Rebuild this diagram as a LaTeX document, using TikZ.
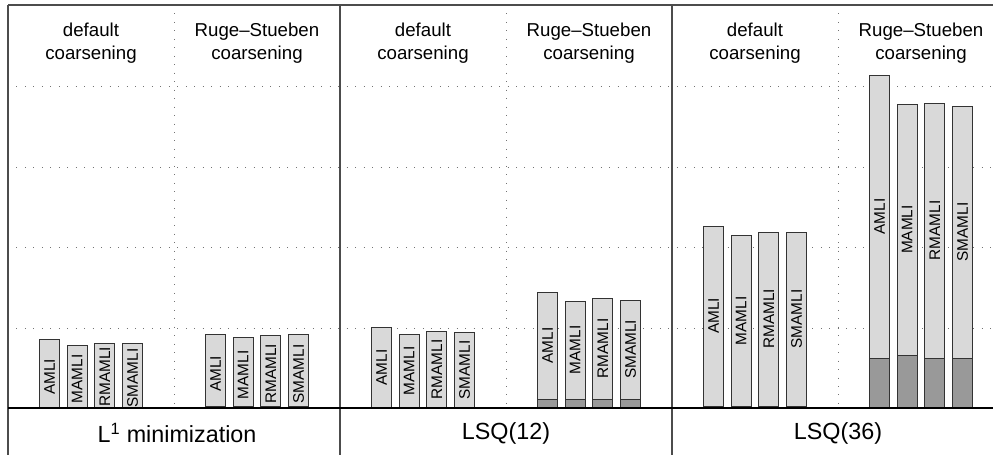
\documentclass[tikz,border=0pt]{standalone}
\usepackage{fontspec}
\setmainfont{Liberation Sans}
\definecolor{barlight}{rgb}{0.85,0.85,0.85}
\definecolor{bardark}{rgb}{0.6,0.6,0.6}
\definecolor{gridgray}{rgb}{0.45,0.45,0.45}
\tikzset{
  lightbar/.style={draw=black!80,fill=barlight,line width=0.75pt},
  darkbar/.style={draw=black!80,fill=bardark,line width=0.75pt},
  barlabel/.style={rotate=90,inner sep=0pt,font=\fontsize{11.5}{13}\selectfont},
  gridline/.style={gridgray,line width=0.75pt,dash pattern=on 0.75pt off 5.6pt},
  frameline/.style={black!70,line width=1pt},
  grouptitle/.style={align=center,font=\fontsize{14}{17.5}\selectfont},
  paneltitle/.style={font=\fontsize{17.5}{20}\selectfont}
}
\begin{document}
\begin{tikzpicture}[x=0.75pt,y=-0.75pt]
\useasboundingbox (0,0) rectangle (994,455);

% grid
\draw[gridline] (8,86) -- (993,86);
\draw[gridline] (8,167) -- (993,167);
\draw[gridline] (8,247) -- (993,247);
\draw[gridline] (8,328) -- (993,328);
\draw[gridline] (174,5) -- (174,408);
\draw[gridline] (174+332,5) -- (174+332,408);
\draw[gridline] (174+664,5) -- (174+664,408);

% L1 minimization, default coarsening
\draw[lightbar] (39.5,408) rectangle (39.5+20,339);
\draw[lightbar] (39.5+27.7,408) rectangle (39.5+27.7+20,345);
\draw[lightbar] (39.5+55.4,408) rectangle (39.5+55.4+20,343);
\draw[lightbar] (39.5+83.1,408) rectangle (39.5+83.1+20,343);
\node[barlabel] (l1d1) at (49.5,377) {AMLI};
\node[barlabel] (l1d2) at (49.5+27.7,379) {MAMLI};
\node[barlabel] (l1d3) at (49.5+55.4,377) {RMAMLI};
\node[barlabel] (l1d4) at (49.5+83.1,378) {SMAMLI};
% L1 minimization, Ruge-Stueben
\draw[lightbar] (205.5,408) rectangle (205.5+20,334);
\draw[lightbar] (205.5+27.7,408) rectangle (205.5+27.7+20,337);
\draw[lightbar] (205.5+55.4,408) rectangle (205.5+55.4+20,335);
\draw[lightbar] (205.5+83.1,408) rectangle (205.5+83.1+20,334);
\draw[darkbar] (205.5,408) rectangle (205.5+20,406);
\draw[darkbar] (205.5+27.7,408) rectangle (205.5+27.7+20,406);
\draw[darkbar] (205.5+55.4,408) rectangle (205.5+55.4+20,406);
\draw[darkbar] (205.5+83.1,408) rectangle (205.5+83.1+20,406);
\node[barlabel] (l1r1) at (215.5,374) {AMLI};
\node[barlabel] (l1r2) at (215.5+27.7,375) {MAMLI};
\node[barlabel] (l1r3) at (215.5+55.4,374) {RMAMLI};
\node[barlabel] (l1r4) at (215.5+83.1,374) {SMAMLI};

% LSQ(12), default coarsening
\draw[lightbar] (39.5+332,408) rectangle (39.5+332+20,327);
\draw[lightbar] (39.5+332+27.7,408) rectangle (39.5+332+27.7+20,334);
\draw[lightbar] (39.5+332+55.4,408) rectangle (39.5+332+55.4+20,331);
\draw[lightbar] (39.5+332+83.1,408) rectangle (39.5+332+83.1+20,332);
\node[barlabel] (q12d1) at (49.5+332,367.5) {AMLI};
\node[barlabel] (q12d2) at (49.5+332+27.7,371) {MAMLI};
\node[barlabel] (q12d3) at (49.5+332+55.4,369.5) {RMAMLI};
\node[barlabel] (q12d4) at (49.5+332+83.1,370) {SMAMLI};
% LSQ(12), Ruge-Stueben
\draw[lightbar] (205.5+332,408) rectangle (205.5+332+20,292);
\draw[lightbar] (205.5+332+27.7,408) rectangle (205.5+332+27.7+20,301);
\draw[lightbar] (205.5+332+55.4,408) rectangle (205.5+332+55.4+20,298);
\draw[lightbar] (205.5+332+83.1,408) rectangle (205.5+332+83.1+20,300);
\draw[darkbar] (205.5+332,408) rectangle (205.5+332+20,399);
\draw[darkbar] (205.5+332+27.7,408) rectangle (205.5+332+27.7+20,399);
\draw[darkbar] (205.5+332+55.4,408) rectangle (205.5+332+55.4+20,399);
\draw[darkbar] (205.5+332+83.1,408) rectangle (205.5+332+83.1+20,399);
\node[barlabel] (q12r1) at (215.5+332,345.5) {AMLI};
\node[barlabel] (q12r2) at (215.5+332+27.7,350) {MAMLI};
\node[barlabel] (q12r3) at (215.5+332+55.4,348.5) {RMAMLI};
\node[barlabel] (q12r4) at (215.5+332+83.1,349.5) {SMAMLI};

% LSQ(36), default coarsening
\draw[lightbar] (39.5+664,408) rectangle (39.5+664+20,226);
\draw[lightbar] (39.5+664+27.7,408) rectangle (39.5+664+27.7+20,235);
\draw[lightbar] (39.5+664+55.4,408) rectangle (39.5+664+55.4+20,232);
\draw[lightbar] (39.5+664+83.1,408) rectangle (39.5+664+83.1+20,232);
\draw[darkbar] (39.5+664,408) rectangle (39.5+664+20,406.5);
\draw[darkbar] (39.5+664+27.7,408) rectangle (39.5+664+27.7+20,406.5);
\draw[darkbar] (39.5+664+55.4,408) rectangle (39.5+664+55.4+20,406.5);
\draw[darkbar] (39.5+664+83.1,408) rectangle (39.5+664+83.1+20,406.5);
\node[barlabel] (q36d1) at (49.5+664,316) {AMLI};
\node[barlabel] (q36d2) at (49.5+664+27.7,321) {MAMLI};
\node[barlabel] (q36d3) at (49.5+664+55.4,319) {RMAMLI};
\node[barlabel] (q36d4) at (49.5+664+83.1,319) {SMAMLI};
% LSQ(36), Ruge-Stueben
\draw[lightbar] (205.5+664,408) rectangle (205.5+664+20,75);
\draw[lightbar] (205.5+664+27.7,408) rectangle (205.5+664+27.7+20,104);
\draw[lightbar] (205.5+664+55.4,408) rectangle (205.5+664+55.4+20,103);
\draw[lightbar] (205.5+664+83.1,408) rectangle (205.5+664+83.1+20,106);
\draw[darkbar] (205.5+664,408) rectangle (205.5+664+20,358);
\draw[darkbar] (205.5+664+27.7,408) rectangle (205.5+664+27.7+20,355);
\draw[darkbar] (205.5+664+55.4,408) rectangle (205.5+664+55.4+20,358);
\draw[darkbar] (205.5+664+83.1,408) rectangle (205.5+664+83.1+20,358);
\node[barlabel] (q36r1) at (215.5+664,216.5) {AMLI};
\node[barlabel] (q36r2) at (215.5+664+27.7,229.5) {MAMLI};
\node[barlabel] (q36r3) at (215.5+664+55.4,230.5) {RMAMLI};
\node[barlabel] (q36r4) at (215.5+664+83.1,232) {SMAMLI};

% frame
\draw[frameline] (8,5) -- (993,5);
\draw[frameline] (8,5) -- (8,455);
\draw[frameline] (340,5) -- (340,455);
\draw[frameline] (672,5) -- (672,455);
\draw[black,line width=1pt] (8,408) -- (993,408);

% titles
\node[grouptitle] (t1d) at (91,43) {default\\coarsening};
\node[grouptitle] (t1r) at (257,43) {Ruge--Stueben\\coarsening};
\node[grouptitle] (t2d) at (91+332,43) {default\\coarsening};
\node[grouptitle] (t2r) at (257+332,43) {Ruge--Stueben\\coarsening};
\node[grouptitle] (t3d) at (91+664,43) {default\\coarsening};
\node[grouptitle] (t3r) at (257+664,43) {Ruge--Stueben\\coarsening};
\node[paneltitle] (p1) at (177,433) {L\textsuperscript{1} minimization};
\node[paneltitle] (p2) at (174+332,433) {LSQ(12)};
\node[paneltitle] (p3) at (174+664,433) {LSQ(36)};
\end{tikzpicture}
\end{document}
